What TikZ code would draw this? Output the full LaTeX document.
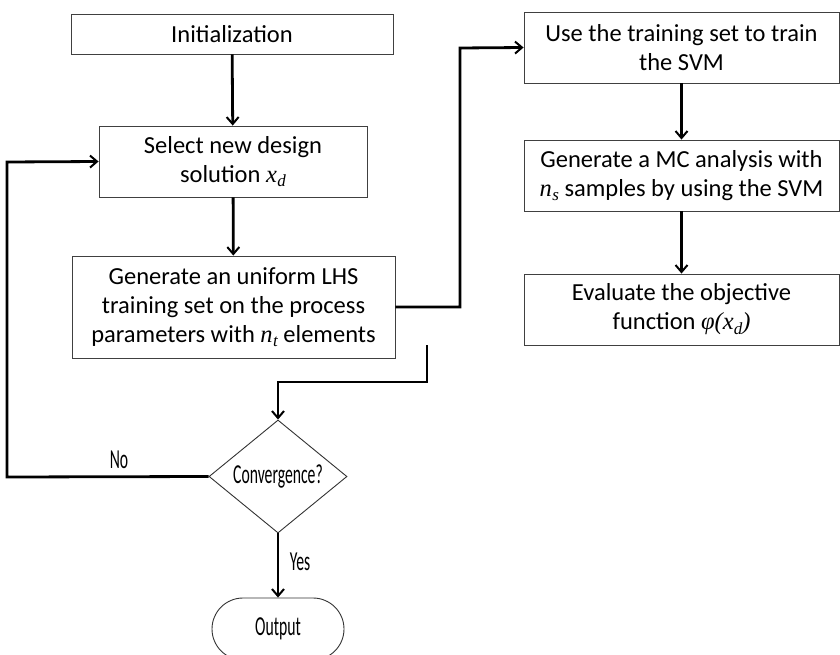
\documentclass[tikz,border=0pt]{standalone}
\usepackage{fontspec}
\setmainfont{Carlito}
\newfontfamily\tms{Liberation Serif}
\usetikzlibrary{arrows.meta,shapes.geometric,shapes.misc}
\newcommand{\mv}[2]{{\tms\itshape #1\kern0.5pt\raisebox{-0.4ex}{\fontsize{17}{17}\selectfont #2}}}
\newcommand{\narrow}[1]{\scalebox{0.64}[1.12]{#1}}
\begin{document}
\begin{tikzpicture}[x=1pt,y=-1pt,
  font=\fontsize{24.5}{29}\selectfont,
  box/.style={draw=black!75, line width=0.9pt, rectangle, align=center, inner sep=0pt},
  conn/.style={line width=2.8pt, -{Straight Barb[length=7pt,width=12pt,line width=2pt]}},
  lbl/.style={inner sep=0pt}]
\useasboundingbox (0,0) rectangle (840,655);
\clip (0,0) rectangle (840,655);
\node[box, minimum width=322pt, minimum height=40pt] (init) at (232,34) {Initialization};
\node[box, minimum width=268pt, minimum height=71pt] (sel) at (233,161.5) {Select new design\\solution \mv{x}{d}};
\node[box, minimum width=323pt, minimum height=102pt] (lhs) at (233.5,307) {Generate an uniform LHS\\training set on the process\\parameters with \mv{n}{t} elements};
\node[box, minimum width=315pt, minimum height=71pt] (use) at (681.5,47.5) {Use the training set to train\\the SVM};
\node[box, minimum width=315pt, minimum height=71pt] (mc) at (681.5,175.5) {Generate a MC analysis with\\\mv{n}{s} samples by using the SVM};
\node[box, minimum width=315pt, minimum height=71pt] (eval) at (681.5,309.5) {Evaluate the objective\\function {\tms\itshape φ(x\raisebox{-0.4ex}{\fontsize{17}{17}\selectfont d})}};
\node[draw=black!80, line width=0.9pt, diamond, inner sep=0pt, minimum width=138pt, minimum height=113pt] (conv) at (278,476.5) {\makebox[0pt]{\narrow{Convergence?}}};
\node[draw=black!80, line width=0.9pt, rounded rectangle, minimum width=132pt, minimum height=62pt, inner sep=0pt] (out) at (278,629) {\narrow{Output}};
\coordinate (c1) at (460,307);
\coordinate (c2) at (460,48);
\coordinate (c3) at (427,382);
\coordinate (c4) at (278,382);
\coordinate (c5) at (7,477);
\coordinate (c6) at (7,162);
\draw[conn] (init) -- (sel);
\draw[conn] (sel) -- (lhs);
\draw[conn] (lhs.east) -- (c1) -- (c2) -- (use.west);
\draw[conn] (use) -- (mc);
\draw[conn] (mc) -- (eval);
\draw[conn] (eval.south -| c3) -- (c3) -- (c4) -- (conv.north);
\draw[conn] (conv.west) -- (c5) -- (c6) -- (sel.west);
\draw[conn] (conv.south) -- (out.north);
\node[lbl] (no) at (119,460) {\narrow{No}};
\node[lbl] (yes) at (300,562) {\narrow{Yes}};
\end{tikzpicture}
\end{document}
